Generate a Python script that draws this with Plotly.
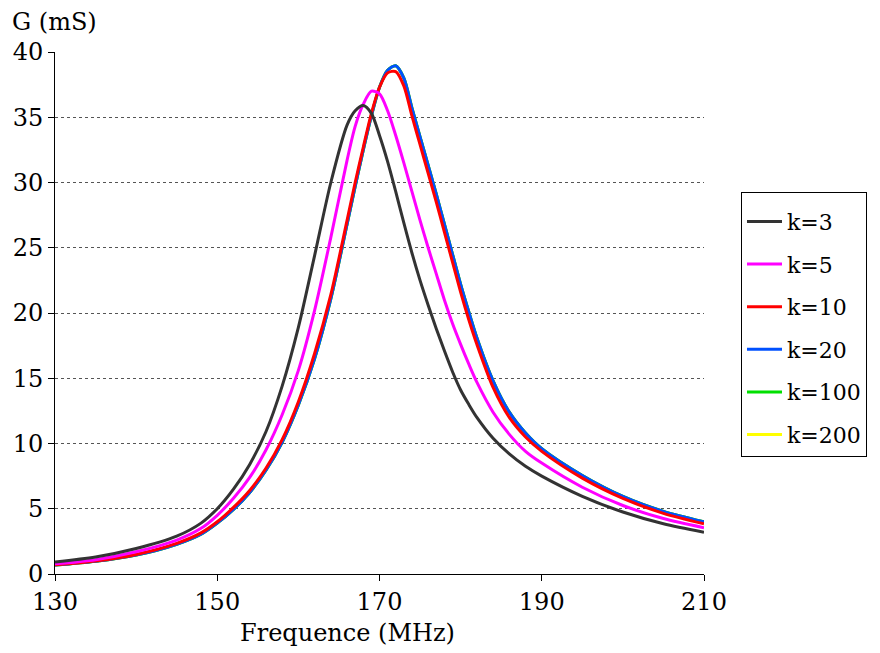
import plotly.graph_objects as go

freq = [130, 135, 140, 145, 148, 150, 152, 154, 156, 158, 160, 162, 164, 166, 167, 168,
        169, 170, 171, 172, 173, 174, 175, 176, 177, 178, 179, 180, 181, 182, 184, 186,
        188, 190, 195, 200, 205, 210]

g_k3 = [0.92, 1.3, 1.95, 2.9, 3.9, 5.0, 6.5, 8.4, 10.9, 14.4, 18.9, 24.4, 30.0, 34.4, 35.5, 35.9,
        35.3, 33.6, 31.6, 29.3, 26.9, 24.6, 22.5, 20.6, 18.8, 17.1, 15.5, 14.1, 13.0, 12.0, 10.4, 9.2,
        8.25, 7.5, 5.95, 4.75, 3.85, 3.2]

g_k5 = [0.78, 1.1, 1.7, 2.6, 3.5, 4.5, 5.8, 7.4, 9.5, 12.2, 15.6, 20.2, 25.8, 31.7, 34.3, 36.0,
        37.0, 36.8, 35.5, 33.6, 31.5, 29.3, 27.1, 25.0, 23.0, 21.0, 19.2, 17.6, 16.1, 14.7, 12.4, 10.7,
        9.4, 8.5, 6.65, 5.25, 4.25, 3.55]

g_k10 = [0.7, 1.0, 1.5, 2.35, 3.15, 4.0, 5.1, 6.4, 8.1, 10.3, 13.2, 16.9, 21.4, 27.1, 30.0, 32.7,
         35.3, 37.3, 38.4, 38.5, 37.4, 35.1, 32.9, 30.7, 28.5, 26.2, 23.9, 21.6, 19.5, 17.6, 14.3, 12.0,
         10.5, 9.4, 7.35, 5.8, 4.65, 3.85]

g_k20 = [0.68, 0.97, 1.45, 2.28, 3.05, 3.9, 4.95, 6.25, 7.95, 10.1, 12.95, 16.5, 21.1, 26.8, 29.7, 32.5,
         35.1, 37.3, 38.6, 38.95, 38.0, 35.7, 33.5, 31.3, 29.1, 26.8, 24.5, 22.2, 20.1, 18.1, 14.8, 12.4,
         10.8, 9.6, 7.55, 5.95, 4.8, 4.0]

g_k100 = list(g_k20)
g_k200 = list(g_k20)

series_names = ["k=3", "k=5", "k=10", "k=20", "k=100", "k=200"]
series_values = [g_k3, g_k5, g_k10, g_k20, g_k100, g_k200]
series_colors = ["#333333", "#FF00FF", "#FF0000", "#0050FF", "#00E000", "#FFFF00"]

x_ticks = [130, 150, 170, 190, 210]
y_ticks = [0, 5, 10, 15, 20, 25, 30, 35, 40]

FONT = "DejaVu Serif"

fig = go.Figure()
draw_order = [5, 4, 3, 2, 1, 0]
for i in draw_order:
    fig.add_trace(go.Scatter(
        x=freq, y=series_values[i], mode="lines", name=series_names[i],
        line=dict(color=series_colors[i], width=3, shape="spline", smoothing=0.8),
        legendrank=i + 1, legendgroup=series_names[i],
    ))

fig.update_layout(
    width=880, height=653,
    margin=dict(l=47, r=184, t=44, b=87, autoexpand=False),
    paper_bgcolor="white", plot_bgcolor="white",
    font=dict(family=FONT, size=24, color="black"),
    showlegend=True,
    legend=dict(
        x=1.057, xanchor="left", y=0.732, yanchor="top",
        bordercolor="black", borderwidth=1, bgcolor="white",
        font=dict(family=FONT, size=22, color="black"),
        tracegroupgap=11, traceorder="grouped", itemwidth=35,
        title=dict(text=" ", font=dict(size=6)),
    ),
    xaxis=dict(
        range=[130, 210], tickvals=x_ticks, ticktext=[str(v) for v in x_ticks],
        showgrid=False, zeroline=False, showline=True, linecolor="black", linewidth=1,
        ticks="outside", ticklen=6, tickcolor="black",
        tickfont=dict(family=FONT, size=24), automargin=False,
    ),
    yaxis=dict(
        range=[0, 40], tickvals=y_ticks, ticktext=[str(v) for v in y_ticks],
        showgrid=True, gridcolor="#555555", griddash="dot", gridwidth=1,
        zeroline=False, showline=True, linecolor="black", linewidth=1,
        ticks="outside", ticklen=6, tickcolor="black",
        tickfont=dict(family=FONT, size=24), automargin=False,
    ),
    annotations=[
        dict(text="G (mS)", xref="paper", yref="paper", x=-0.0693, y=1.0575,
             xanchor="left", yanchor="middle", showarrow=False,
             font=dict(family=FONT, size=24)),
        dict(text="Frequence (MHz)", xref="paper", yref="paper", x=0.451, y=-0.113,
             xanchor="center", yanchor="middle", showarrow=False,
             font=dict(family=FONT, size=24)),
    ],
)

fig.write_html("out.html")
